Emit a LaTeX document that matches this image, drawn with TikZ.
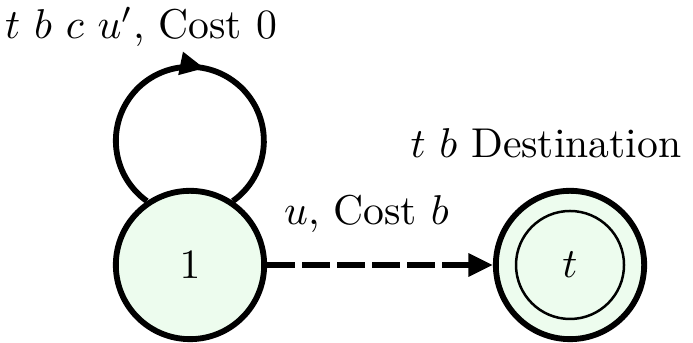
\documentclass[tikz,border=0pt]{standalone}
\usepackage{tikz}
\usetikzlibrary{arrows.meta,positioning,decorations.markings}
\definecolor{stategreen}{HTML}{EDFCEE}

\begin{document}
\begin{tikzpicture}[x=0.24pt,y=0.24pt,
      st/.style={circle,draw,line width=1.4pt,fill=stategreen,
                 minimum size=35.6pt,inner sep=0pt},
      ar/.style={line width=1.4pt,-{Triangle[length=5.9pt,width=5.3pt]}},
      midar/.style={line width=1.4pt,decoration={markings,
                 mark=at position 0.54 with {\arrow{Triangle[length=5.9pt,width=5.3pt]}}},
                 postaction={decorate}},
      lbl/.style={inner sep=0pt}]
    \useasboundingbox (0,0) rectangle (693,343);
    % states
    \node[st] (one) at (190,78) {$1$};
    \node[st] (dest) at (570,78) {$t$};
    \draw[semithick] (dest.center) circle[radius=54];
    % self loop on 1
    \draw[midar] (one.124) arc[start angle=234.5,end angle=-54.5,radius=74];
    \node[lbl,anchor=base] (looptext) at (141,304) {$t$ $b$ $c$ $u'$, Cost 0};
    % move to destination
    \draw[ar,dash pattern=on 6.6pt off 1.8pt] (one) --
      node[lbl,pos=0.44,above=7pt] (movetext) {$u$, Cost $b$} (dest);
    \node[lbl,anchor=base] (desttext) at (546,185) {$t$ $b$ Destination};
  \end{tikzpicture}
\end{document}
